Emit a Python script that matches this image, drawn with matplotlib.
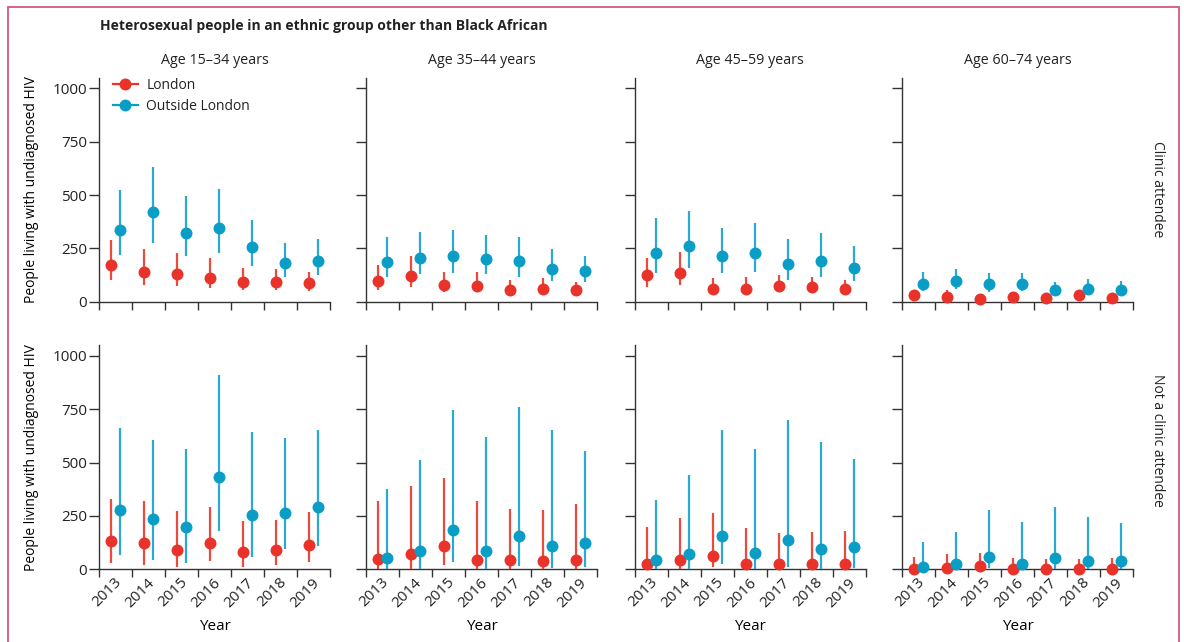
import matplotlib
matplotlib.use("Agg")
import matplotlib.pyplot as plt
import matplotlib.patches as patches
from matplotlib.lines import Line2D
import numpy as np

plt.rcParams["font.family"] = ["Open Sans", "DejaVu Sans"]
plt.rcParams["font.size"] = 10
plt.rcParams["text.color"] = "#222222"

years = [2013, 2014, 2015, 2016, 2017, 2018, 2019]
age_groups = ["Age 15\u201334 years", "Age 35\u201344 years", "Age 45\u201359 years", "Age 60\u201374 years"]
row_labels = ["Clinic attendee", "Not a clinic attendee"]

# estimates with lower / upper bounds, one list per age group
clinic_london_est = [
    [171, 140, 128, 109, 93, 91, 87],
    [98, 120, 77, 75, 55, 61, 55],
    [123, 133, 58, 61, 73, 67, 61],
    [30, 23, 13, 23, 19, 30, 16],
]
clinic_london_lo = [
    [101, 78, 73, 63, 55, 55, 51],
    [55, 70, 44, 44, 31, 39, 31],
    [70, 77, 35, 39, 44, 39, 39],
    [21, 15, 5, 13, 8, 16, 5],
]
clinic_london_hi = [
    [288, 245, 226, 203, 156, 151, 140],
    [171, 214, 139, 139, 101, 109, 93],
    [203, 234, 109, 114, 125, 117, 101],
    [50, 55, 20, 44, 33, 51, 28],
]
clinic_outside_est = [
    [338, 421, 324, 344, 257, 181, 190],
    [187, 204, 214, 198, 189, 153, 143],
    [229, 259, 215, 229, 176, 189, 159],
    [84, 97, 81, 81, 55, 61, 55],
]
clinic_outside_lo = [
    [218, 276, 214, 226, 168, 117, 125],
    [117, 128, 136, 128, 117, 97, 93],
    [136, 159, 133, 140, 101, 114, 97],
    [50, 58, 47, 50, 33, 35, 33],
]
clinic_outside_hi = [
    [522, 631, 494, 530, 385, 276, 293],
    [301, 327, 338, 312, 301, 245, 215],
    [391, 424, 346, 368, 292, 321, 260],
    [140, 153, 136, 133, 93, 106, 97],
]
nonclinic_london_est = [
    [133, 121, 92, 124, 80, 91, 113],
    [47, 73, 111, 44, 44, 41, 44],
    [23, 44, 64, 23, 23, 23, 23],
    [3, 8, 16, 3, 3, 3, 3],
]
nonclinic_london_lo = [
    [31, 22, 12, 41, 12, 22, 36],
    [0, 0, 19, 0, 0, 0, 0],
    [0, 0, 9, 0, 0, 0, 0],
    [0, 0, 0, 0, 0, 0, 0],
]
nonclinic_london_hi = [
    [331, 321, 271, 292, 227, 232, 270],
    [320, 389, 428, 321, 282, 279, 304],
    [199, 241, 262, 194, 171, 177, 180],
    [56, 72, 78, 52, 47, 47, 52],
]
nonclinic_outside_est = [
    [277, 238, 197, 431, 254, 266, 292],
    [53, 86, 182, 88, 157, 111, 122],
    [44, 70, 155, 77, 136, 97, 103],
    [12, 23, 58, 25, 52, 38, 41],
]
nonclinic_outside_lo = [
    [66, 44, 31, 179, 56, 94, 110],
    [0, 0, 36, 0, 16, 6, 9],
    [0, 0, 26, 0, 12, 0, 6],
    [0, 0, 5, 0, 0, 0, 0],
]
nonclinic_outside_hi = [
    [663, 608, 566, 909, 644, 616, 655],
    [378, 514, 745, 619, 760, 652, 553],
    [324, 444, 655, 566, 699, 597, 517],
    [130, 177, 279, 222, 293, 245, 219],
]

red = "#e8322a"
blue = "#0a9ec6"
red_line = "#ec4a3e"
blue_line = "#2aaad2"
axis_col = "#333333"

rows = [
    (clinic_london_est, clinic_london_lo, clinic_london_hi,
     clinic_outside_est, clinic_outside_lo, clinic_outside_hi),
    (nonclinic_london_est, nonclinic_london_lo, nonclinic_london_hi,
     nonclinic_outside_est, nonclinic_outside_lo, nonclinic_outside_hi),
]

W, H = 1184, 642
fig = plt.figure(figsize=(W / 100, H / 100), dpi=100)

col_left = [99, 366, 634.7, 902.3]
row_bottom = [301.7, 569.3]
ax_w = 231
ax_h = 224

x = np.arange(len(years))
ms = 8.6

for r, (l_est, l_lo, l_hi, o_est, o_lo, o_hi) in enumerate(rows):
    for c in range(4):
        ax = fig.add_axes([col_left[c] / W, (H - row_bottom[r]) / H, ax_w / W, ax_h / H])
        le, ll, lh = np.array(l_est[c]), np.array(l_lo[c]), np.array(l_hi[c])
        oe, ol, oh = np.array(o_est[c]), np.array(o_lo[c]), np.array(o_hi[c])
        for xs, est, lo, hi, mc, lc in [
            (x + 0.36, le, ll, lh, red, red_line),
            (x + 0.64, oe, ol, oh, blue, blue_line),
        ]:
            ax.vlines(xs, lo, hi, color=lc, lw=1.6, zorder=3, clip_on=False)
            ax.plot(xs, est, "o", color=mc, ms=ms, mec="none", zorder=4, clip_on=False)

        ax.set_xlim(0, 7)
        ax.set_ylim(0, 1050)
        for s in ["top", "right"]:
            ax.spines[s].set_visible(False)
        for s in ["left", "bottom"]:
            ax.spines[s].set_color(axis_col)
            ax.spines[s].set_linewidth(1.0)

        ax.set_yticks([0, 250, 500, 750, 1000])
        if c == 0:
            ax.set_ylabel("People living with undiagnosed HIV", fontsize=10, labelpad=10)
        else:
            ax.set_yticklabels([])
        ax.tick_params(axis="y", direction="out", length=7, width=1.0, color=axis_col,
                       labelsize=11, labelcolor="#222222", pad=1.5)

        ax.set_xticks(np.arange(8))
        ax.set_xticklabels([])
        ax.tick_params(axis="x", which="major", direction="out", length=6, width=1.0, color=axis_col)
        if r == 1:
            ax.set_xticks(x + 0.62, minor=True)
            ax.set_xticklabels([str(y) for y in years], minor=True, rotation=45,
                               ha="right", va="center", rotation_mode="anchor")
            ax.tick_params(axis="x", which="minor", length=0, pad=8, labelsize=11,
                           labelcolor="#222222")
            ax.set_xlabel("Year", fontsize=11, labelpad=6)
        else:
            ax.set_xticks([], minor=True)

        if r == 0:
            ax.set_title(age_groups[c], fontsize=10.3, pad=10)

        if r == 0 and c == 0:
            handles = [
                Line2D([], [], color=red, marker="o", ms=ms, mec="none", lw=1.6),
                Line2D([], [], color=blue, marker="o", ms=ms, mec="none", lw=1.6),
            ]
            ax.legend(handles, ["London", "Outside London"], loc="upper left",
                      bbox_to_anchor=(0.06, 1.0), frameon=False, borderpad=0,
                      borderaxespad=0, handlelength=1.8, handletextpad=0.6,
                      labelspacing=0.45, fontsize=10)

fig.text(100 / W, 1 - 26 / H, "Heterosexual people in an ethnic group other than Black African",
         fontsize=10, fontweight="bold", va="center", ha="left")
fig.text(1157 / W, 1 - 189 / H, row_labels[0], rotation=270, fontsize=10, va="center", ha="center")
fig.text(1157 / W, 1 - 440 / H, row_labels[1], rotation=270, fontsize=10, va="center", ha="center")

fig.add_artist(patches.Rectangle((8 / W, -0.05), (1179 - 8) / W, 0.05 + (H - 7) / H,
                                 transform=fig.transFigure, fill=False,
                                 edgecolor="#d4587c", lw=1.3))

fig.savefig("out.png", dpi=100)
